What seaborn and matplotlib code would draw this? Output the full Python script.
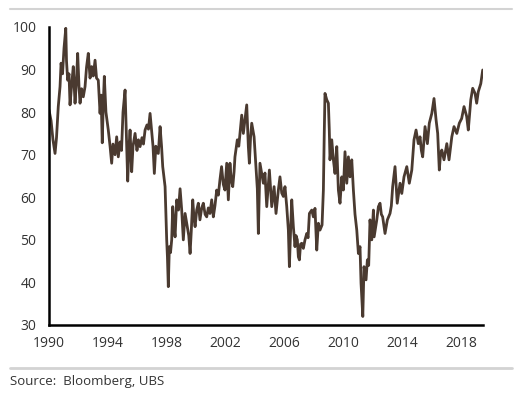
import matplotlib
matplotlib.use("Agg")
import matplotlib.pyplot as plt
import seaborn as sns
import pandas as pd
from matplotlib.lines import Line2D

# index level (decimal year, value)
years = [
    1990.00, 1990.14, 1990.27, 1990.41, 1990.51, 1990.63, 1990.75, 1990.82, 1990.92, 1991.02,
    1991.14, 1991.19, 1991.27, 1991.36, 1991.43, 1991.53, 1991.65, 1991.77, 1991.86, 1991.95,
    1992.04, 1992.11, 1992.21, 1992.33, 1992.45, 1992.55, 1992.67, 1992.79, 1992.90, 1993.01,
    1993.13, 1993.23, 1993.35, 1993.47, 1993.54, 1993.62, 1993.69, 1993.76, 1993.87, 1994.03,
    1994.15, 1994.26, 1994.35, 1994.49, 1994.60, 1994.71, 1994.83, 1994.93, 1995.03, 1995.17,
    1995.23, 1995.35, 1995.44, 1995.51, 1995.62, 1995.71, 1995.85, 1995.98, 1996.08, 1996.19,
    1996.32, 1996.42, 1996.53, 1996.66, 1996.76, 1996.87, 1996.99, 1997.07, 1997.16, 1997.26,
    1997.34, 1997.43, 1997.55, 1997.65, 1997.73, 1997.89, 1998.00, 1998.05, 1998.11, 1998.18,
    1998.26, 1998.34, 1998.41, 1998.50, 1998.57, 1998.68, 1998.80, 1998.91, 1999.02, 1999.13,
    1999.25, 1999.40, 1999.50, 1999.59, 1999.67, 1999.77, 1999.86, 1999.93, 2000.04, 2000.15,
    2000.26, 2000.38, 2000.49, 2000.61, 2000.72, 2000.83, 2000.94, 2001.06, 2001.17, 2001.28,
    2001.40, 2001.51, 2001.62, 2001.73, 2001.85, 2001.96, 2002.08, 2002.19, 2002.30, 2002.39,
    2002.49, 2002.58, 2002.64, 2002.80, 2002.90, 2002.98, 2003.10, 2003.21, 2003.32, 2003.44,
    2003.49, 2003.55, 2003.62, 2003.70, 2003.78, 2003.94, 2004.07, 2004.16, 2004.23, 2004.29,
    2004.34, 2004.44, 2004.57, 2004.68, 2004.80, 2004.98, 2005.06, 2005.14, 2005.30, 2005.43,
    2005.59, 2005.70, 2005.82, 2005.93, 2006.04, 2006.16, 2006.27, 2006.34, 2006.42, 2006.50,
    2006.61, 2006.72, 2006.79, 2006.88, 2006.95, 2007.02, 2007.10, 2007.18, 2007.29, 2007.40,
    2007.52, 2007.61, 2007.70, 2007.86, 2007.97, 2008.08, 2008.20, 2008.31, 2008.42, 2008.56,
    2008.65, 2008.71, 2008.76, 2008.88, 2008.99, 2009.05, 2009.10, 2009.22, 2009.33, 2009.44,
    2009.56, 2009.67, 2009.78, 2009.90, 2010.01, 2010.12, 2010.24, 2010.35, 2010.46, 2010.58,
    2010.69, 2010.80, 2010.92, 2011.03, 2011.14, 2011.21, 2011.33, 2011.41, 2011.55, 2011.64,
    2011.73, 2011.82, 2011.94, 2012.05, 2012.10, 2012.20, 2012.28, 2012.39, 2012.50, 2012.59,
    2012.68, 2012.84, 2013.00, 2013.18, 2013.27, 2013.36, 2013.52, 2013.61, 2013.67, 2013.86,
    2013.98, 2014.13, 2014.32, 2014.49, 2014.66, 2014.81, 2014.95, 2015.10, 2015.22, 2015.31,
    2015.40, 2015.56, 2015.72, 2015.85, 2016.02, 2016.17, 2016.31, 2016.42, 2016.53, 2016.61,
    2016.70, 2016.85, 2017.04, 2017.19, 2017.38, 2017.53, 2017.72, 2017.89, 2018.05, 2018.21,
    2018.39, 2018.50, 2018.67, 2018.80, 2018.96, 2019.07, 2019.18, 2019.35, 2019.48,
]
values = [
    80.5, 78.0, 73.5, 70.3, 74.0, 81.3, 86.0, 91.5, 89.0, 95.0,
    99.7, 92.0, 87.5, 89.0, 81.7, 86.0, 90.7, 82.1, 87.0, 93.8,
    86.0, 82.1, 85.5, 83.6, 86.0, 90.5, 93.8, 88.0, 90.7, 88.5,
    92.2, 88.0, 87.5, 79.7, 84.0, 72.8, 82.0, 88.4, 80.0, 75.8,
    72.0, 68.0, 72.5, 70.0, 74.2, 69.5, 73.0, 71.0, 80.0, 85.2,
    78.0, 63.8, 72.0, 75.8, 66.0, 72.0, 75.0, 71.0, 73.5, 71.9,
    74.0, 72.5, 75.8, 77.0, 76.0, 79.7, 75.0, 72.0, 65.6, 72.0,
    70.5, 70.3, 76.6, 72.0, 67.2, 62.5, 50.0, 46.0, 39.0, 48.4,
    47.0, 50.0, 57.8, 53.0, 50.7, 59.4, 57.0, 62.0, 57.0, 50.0,
    56.2, 53.1, 51.0, 46.8, 52.0, 59.4, 55.0, 53.1, 57.0, 58.6,
    54.7, 57.5, 58.6, 56.0, 55.4, 57.5, 56.2, 59.4, 55.4, 58.0,
    61.7, 60.5, 64.1, 67.2, 63.0, 61.7, 68.0, 59.4, 68.0, 64.0,
    62.5, 66.0, 69.5, 73.5, 72.0, 75.0, 79.3, 75.0, 78.2, 81.7,
    77.0, 71.9, 68.0, 74.0, 77.4, 74.2, 67.2, 62.0, 51.5, 60.0,
    68.0, 66.0, 63.3, 65.7, 57.8, 66.4, 62.0, 57.8, 62.5, 56.2,
    61.7, 64.8, 61.0, 60.2, 62.5, 57.8, 52.3, 43.7, 52.0, 59.4,
    53.1, 48.4, 51.0, 50.0, 46.0, 45.3, 49.0, 49.2, 48.0, 50.0,
    51.5, 50.5, 56.2, 57.0, 55.4, 57.4, 47.6, 53.9, 52.3, 53.5,
    61.7, 75.0, 84.4, 82.9, 82.1, 76.0, 68.8, 73.5, 68.8, 65.6,
    71.9, 61.7, 58.6, 64.8, 61.7, 70.7, 63.3, 69.5, 64.8, 68.8,
    61.7, 56.0, 52.3, 46.8, 48.4, 39.8, 32.0, 43.7, 40.6, 45.3,
    44.0, 54.7, 50.0, 57.0, 50.7, 53.0, 54.7, 57.8, 58.6, 56.0,
    55.4, 51.5, 54.7, 56.2, 58.0, 62.5, 67.2, 62.0, 58.6, 63.3,
    60.9, 64.8, 67.2, 63.3, 66.4, 73.5, 75.8, 72.6, 74.2, 71.0,
    69.5, 76.6, 72.6, 77.4, 79.7, 83.2, 78.2, 75.0, 66.4, 70.0,
    71.1, 68.8, 72.6, 68.8, 74.2, 76.6, 75.0, 77.4, 78.5, 81.3,
    79.0, 75.8, 82.9, 85.6, 84.4, 82.1, 84.8, 86.7, 89.9,
]
x_ticks = [1990, 1994, 1998, 2002, 2006, 2010, 2014, 2018]
y_ticks = [30, 40, 50, 60, 70, 80, 90, 100]
source_text = "Source:  Bloomberg, UBS"

df = pd.DataFrame({"year": years, "value": values})

sns.set_style("white")
plt.rcParams["font.family"] = ["Open Sans", "DejaVu Sans"]

fig = plt.figure(figsize=(5.21, 3.99), dpi=100)
ax = fig.add_axes([49 / 521, 1 - 325 / 399, (483 - 49) / 521, (325 - 27) / 399])

sns.lineplot(data=df, x="year", y="value", ax=ax, color="#4a3a30", linewidth=2.0)

ax.set_xlim(1990, 2019.5)
ax.set_ylim(30, 100)
ax.set_xticks(x_ticks)
ax.set_yticks(y_ticks)
ax.set_xticklabels([str(t) for t in x_ticks])
ax.set_xlabel("")
ax.set_ylabel("")
ax.tick_params(axis="both", length=0, labelsize=10, colors="#333333")
ax.tick_params(axis="y", pad=9)
ax.tick_params(axis="x", pad=8)

for side in ["top", "right"]:
    ax.spines[side].set_visible(False)
for side in ["left", "bottom"]:
    ax.spines[side].set_color("black")
    ax.spines[side].set_linewidth(1.8)

# grey rules above the chart and above the source line
fig.add_artist(Line2D([10 / 521, 512 / 521], [1 - 9 / 399, 1 - 9 / 399],
                      color="#d3d3d3", linewidth=1.5, transform=fig.transFigure))
fig.add_artist(Line2D([10 / 521, 512 / 521], [1 - 368 / 399, 1 - 368 / 399],
                      color="#d3d3d3", linewidth=2.0, transform=fig.transFigure))
fig.text(10 / 521, 1 - 382 / 399, source_text, fontsize=9.5, color="#333333",
         ha="left", va="center")

fig.savefig("out.png", dpi=100)
